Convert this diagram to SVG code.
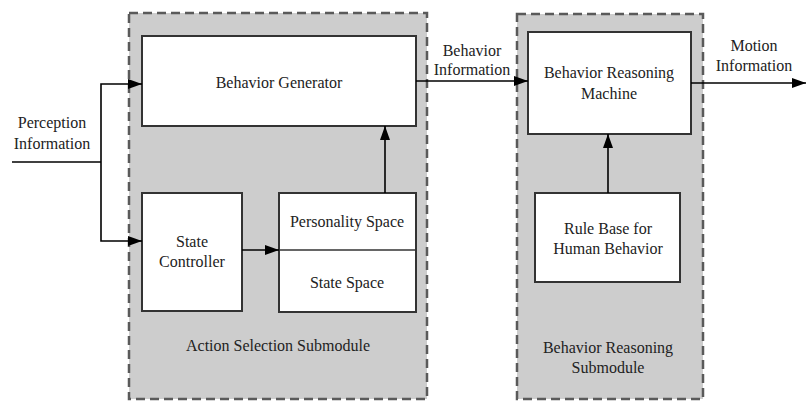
<svg xmlns="http://www.w3.org/2000/svg" width="806" height="401" viewBox="0 0 806 401">
  <defs>
    <marker id="arrow" viewBox="0 0 14 10" refX="14" refY="5" markerWidth="14" markerHeight="10" markerUnits="userSpaceOnUse" orient="auto">
      <path d="M0,0 L14,5 L0,10 z" fill="#000"/>
    </marker>
    <style>
      .module { fill: #cdcdcd; stroke: #5a5a5a; stroke-width: 2.5; stroke-dasharray: 9 5; }
      .box { fill: #ffffff; stroke: #333333; stroke-width: 2; }
      .wire { fill: none; stroke: #000; stroke-width: 1.6; }
      .lbl { font-family: "Liberation Serif", "Times New Roman", serif; font-size: 16px; fill: #222; text-anchor: middle; }
    </style>
  </defs>
  <rect width="806" height="401" fill="#ffffff"/>

  <!-- submodules -->
  <g id="action-selection">
    <rect class="module" x="129" y="13" width="298" height="386"/>
    <text class="lbl" x="278" y="351">Action Selection Submodule</text>
  </g>
  <g id="behavior-reasoning">
    <rect class="module" x="517" y="14" width="186" height="385"/>
    <text class="lbl" x="608" y="353">Behavior Reasoning</text>
    <text class="lbl" x="608" y="373">Submodule</text>
  </g>

  <!-- nodes -->
  <g id="behavior-generator">
    <rect class="box" x="142" y="36" width="274" height="90"/>
    <text class="lbl" x="279" y="88">Behavior Generator</text>
  </g>
  <g id="state-controller">
    <rect class="box" x="142" y="193" width="100" height="118"/>
    <text class="lbl" x="192" y="247">State</text>
    <text class="lbl" x="192" y="267">Controller</text>
  </g>
  <g id="spaces">
    <rect class="box" x="279" y="193" width="137" height="119"/>
    <line x1="279" y1="250" x2="416" y2="250" stroke="#333" stroke-width="1.6"/>
    <text class="lbl" x="347" y="227">Personality Space</text>
    <text class="lbl" x="347" y="288">State Space</text>
  </g>
  <g id="reasoning-machine">
    <rect class="box" x="528" y="32" width="163" height="102"/>
    <text class="lbl" x="609" y="78">Behavior Reasoning</text>
    <text class="lbl" x="609" y="99">Machine</text>
  </g>
  <g id="rule-base">
    <rect class="box" x="535" y="193" width="145" height="89"/>
    <text class="lbl" x="608" y="234">Rule Base for</text>
    <text class="lbl" x="608" y="254">Human Behavior</text>
  </g>

  <!-- free labels -->
  <g id="labels">
    <text class="lbl" x="52" y="128">Perception</text>
    <text class="lbl" x="52" y="149">Information</text>
    <text class="lbl" x="472" y="56">Behavior</text>
    <text class="lbl" x="472" y="75">Information</text>
    <text class="lbl" x="754" y="51">Motion</text>
    <text class="lbl" x="754" y="71">Information</text>
  </g>

  <!-- connectors -->
  <g id="connectors">
    <path class="wire" d="M12,162 H101"/>
    <path class="wire" d="M101,162 V84 H142" marker-end="url(#arrow)"/>
    <path class="wire" d="M101,162 V241 H142" marker-end="url(#arrow)"/>
    <path class="wire" d="M242,250 H279" marker-end="url(#arrow)"/>
    <path class="wire" d="M385,193 V126" marker-end="url(#arrow)"/>
    <path class="wire" d="M416,81 H528" marker-end="url(#arrow)"/>
    <path class="wire" d="M691,83 H806" marker-end="url(#arrow)"/>
    <path class="wire" d="M608,193 V134" marker-end="url(#arrow)"/>
  </g>
</svg>
